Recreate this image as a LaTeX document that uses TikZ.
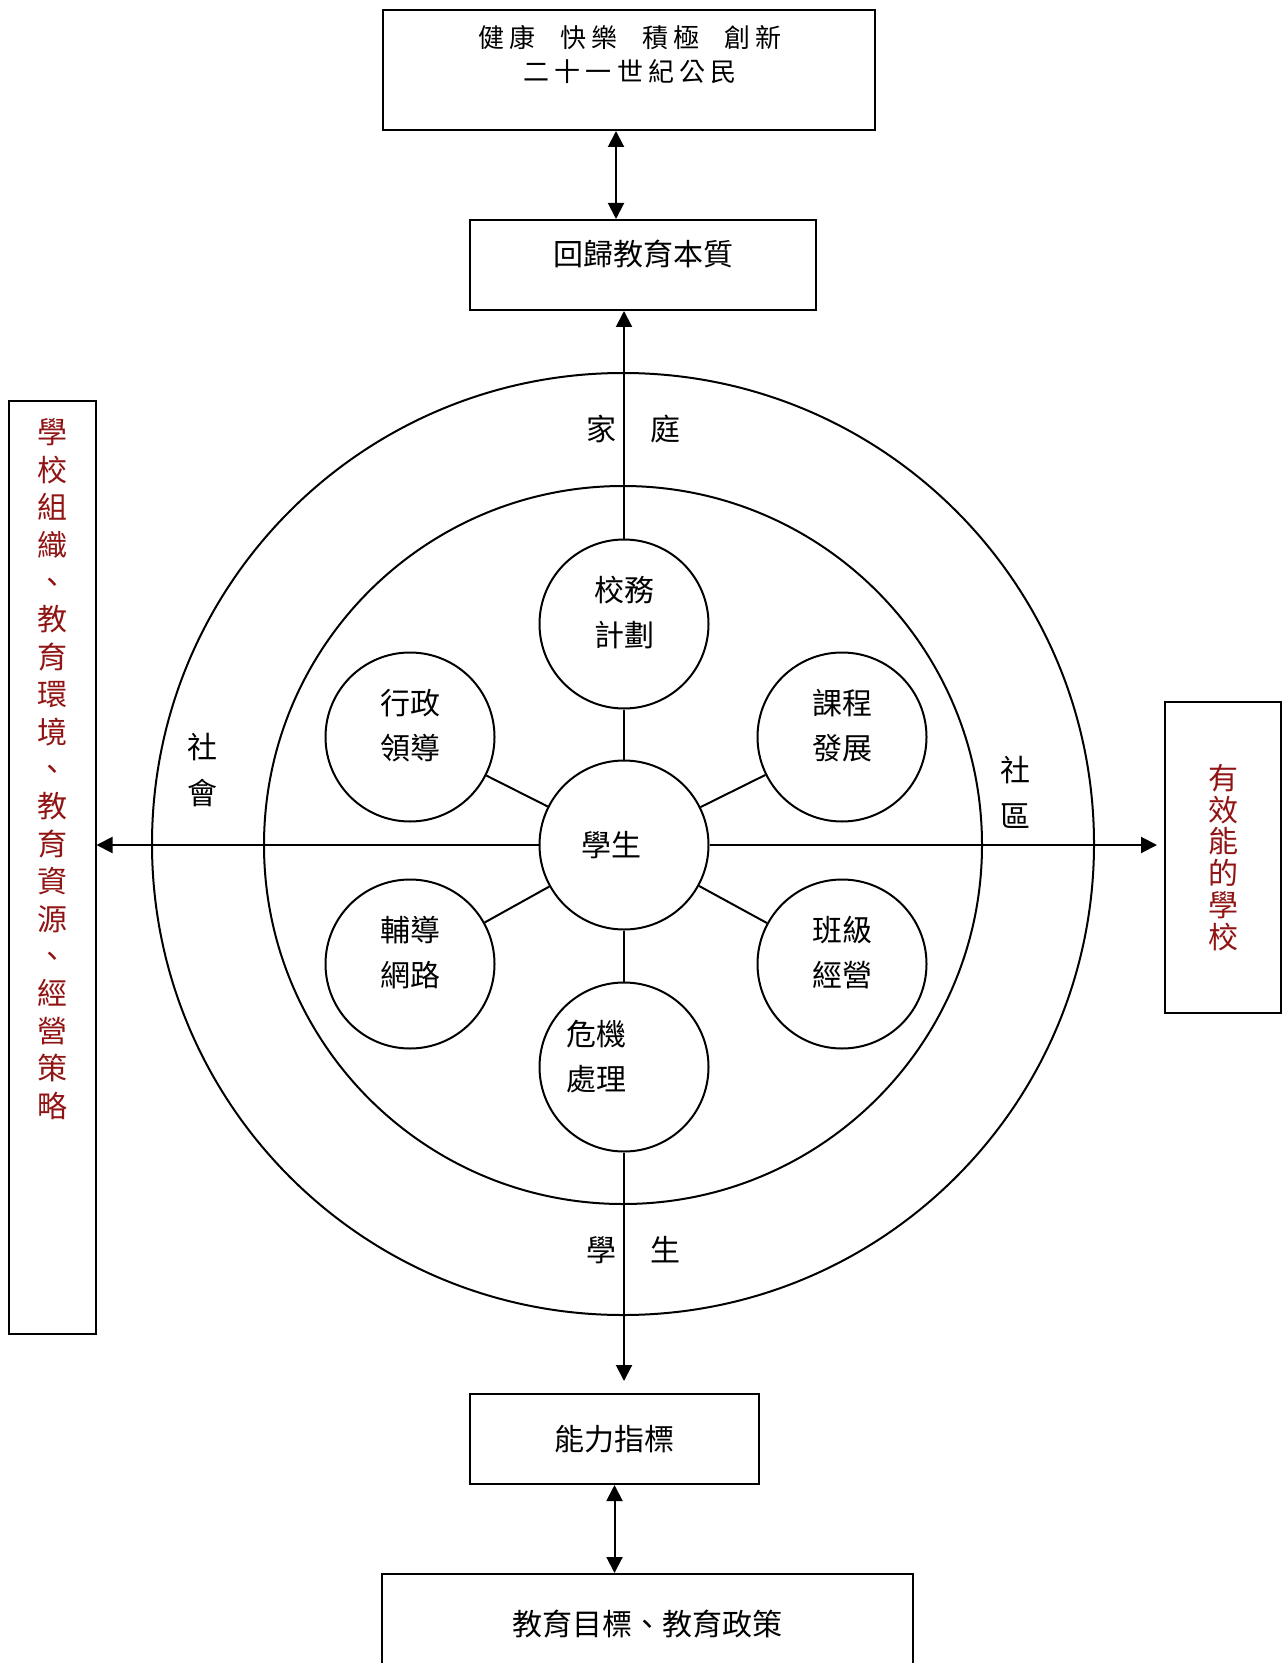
\documentclass[tikz,border=0pt]{standalone}
\usepackage{fontspec}
\setmainfont{Noto Sans CJK TC}
\newfontfamily\widecjk[LetterSpace=20]{Noto Sans CJK TC}
\usetikzlibrary{arrows.meta}
\definecolor{deepred}{RGB}{145,20,20}

\begin{document}
\begin{tikzpicture}[x=0.5pt,y=-0.5pt,line width=1pt]
\tikzset{BoxStyle/.style = {draw, inner sep=0pt, font=\fontsize{15pt}{18pt}\selectfont},
  RingStyle/.style = {draw, circle, inner sep=0pt},
  DiscStyle/.style = {draw, circle, minimum size=84.5pt, inner sep=0pt, align=center, font=\fontsize{15pt}{22.5pt}\selectfont},
  TwoLine/.style = {DiscStyle, text depth=12.4pt},
  WordStyle/.style = {inner sep=0pt, align=center, font=\fontsize{15pt}{23pt}\selectfont},
  RedStyle/.style = {inner sep=0pt, align=center, text=deepred},
  Arrow/.style = {-{Triangle[length=8pt,width=8pt]}},
  TwoWay/.style = {{Triangle[length=8pt,width=8pt]}-{Triangle[length=8pt,width=8pt]}}}
\path[use as bounding box, fill=white] (0,0) rectangle (1287,1663);
\clip (0,0) rectangle (1287,1663);
\node[RingStyle, minimum size=471pt] (outer) at (623,844) {};
\node[RingStyle, minimum size=359pt] (inner) at (623,845) {};
\node[DiscStyle] (stu) at (624,845) {學生\hspace{13pt}};
\node[TwoLine] (plan) at (624,624) {校務\\計劃};
\node[DiscStyle, label={[DiscStyle, draw=none, minimum size=0pt, xshift=-14pt, yshift=5pt]center:危機\\處理}] (crisis) at (624,1067) {};
\node[TwoLine] (admin) at (410,737) {行政\\領導};
\node[TwoLine] (course) at (842,737) {課程\\發展};
\node[TwoLine] (guide) at (410,964) {輔導\\網路};
\node[TwoLine] (klass) at (842,964) {班級\\經營};
\draw (stu) -- (plan); \draw (stu) -- (crisis);
\draw (stu) -- (admin); \draw (stu) -- (course);
\draw (stu) -- (guide); \draw (stu) -- (klass);
\node[BoxStyle, minimum width=246pt, minimum height=60pt] (goal) at (629,70) {};
\node[inner sep=0pt, align=center, font=\widecjk\fontsize{13pt}{17pt}\selectfont] (goaltext) at (630,55) {健康\hspace{7pt} 快樂\hspace{7pt} 積極\hspace{7pt} 創新\\二十一世紀公民};
\node[BoxStyle, minimum width=173pt, minimum height=45pt, text depth=12pt] (back) at (643,265) {回歸教育本質};
\node[BoxStyle, minimum width=144.5pt, minimum height=45pt] (ability) at (614.5,1439) {能力指標};
\node[BoxStyle, minimum width=265.5pt, minimum height=50pt] (aims) at (647.5,1624) {教育目標、教育政策};
\node[BoxStyle, minimum width=43.5pt, minimum height=466.5pt] (org) at (52,867.5) {};
\node[RedStyle, anchor=north, font=\fontsize{15pt}{18.7pt}\selectfont] (orgtext) at ([yshift=-9pt]org.north) {學\\校\\組\\織\\、\\教\\育\\環\\境\\、\\教\\育\\資\\源\\、\\經\\營\\策\\略};
\node[BoxStyle, RedStyle, minimum width=58pt, minimum height=155.5pt, font=\fontsize{15pt}{15.9pt}\selectfont] (eff) at (1223,857.5) {有\\效\\能\\的\\學\\校};
\node[WordStyle] (family) at (633,429) {家\hspace{17pt}庭};
\node[WordStyle] (pupil) at (633,1250) {學\hspace{17pt}生};
\node[WordStyle] (society) at (202,770) {社\\會};
\node[WordStyle] (community) at (1015,792) {社\\區};
\coordinate (topx) at (616,0);
\draw[TwoWay] (goal.south -| topx) -- (back.north -| topx);
\draw[Arrow] (plan.north) -- (plan.north |- back.south);
\draw[Arrow, shorten >=6pt] (crisis.south) -- (crisis.south |- ability.north);
\draw[TwoWay] (ability.south) -- (ability.south |- aims.north);
\draw[Arrow] (stu.west) -- (stu.west -| org.east);
\draw[Arrow, shorten >=3.5pt] (stu.east) -- (stu.east -| eff.west);
\end{tikzpicture}
\end{document}
